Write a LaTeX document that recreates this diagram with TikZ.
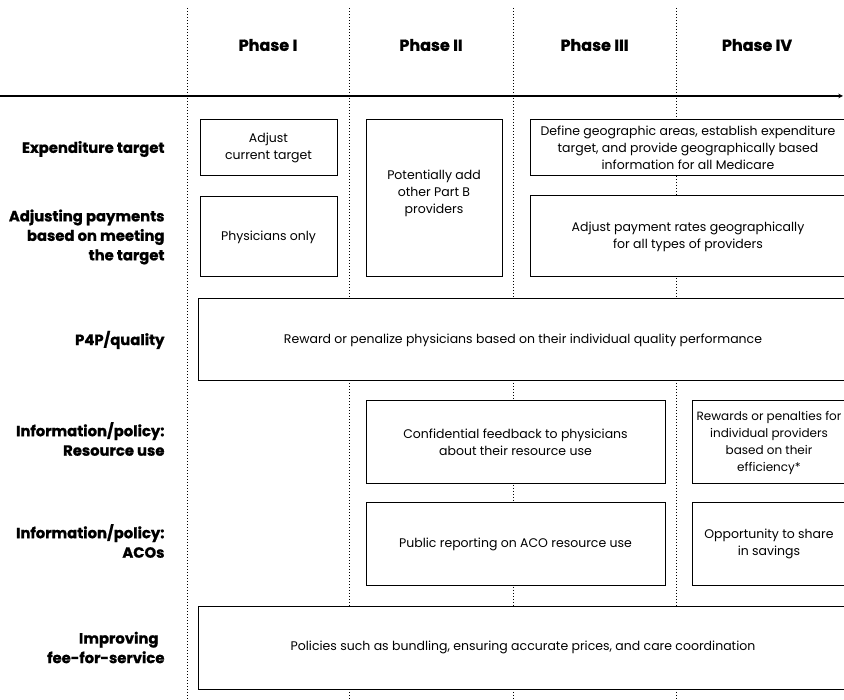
\documentclass[tikz,border=0pt]{standalone}
\usepackage{fontspec}
\setmainfont{Poppins}[BoldFeatures={FakeBold=1}]
\usepackage{tikz}

\begin{document}
\begin{tikzpicture}[x=1pt,y=-1pt,
    cell/.style={fill=white,draw,line width=1pt,align=center,inner sep=0pt,font=\fontsize{12.5}{17}\selectfont},
    rowlabel/.style={anchor=east,align=right,font=\bfseries\fontsize{14.8}{19.5}\selectfont},
    phase/.style={font=\bfseries\fontsize{16}{18}\selectfont},
    divider/.style={line width=0.8pt,dash pattern=on 0.8pt off 2.2pt}]
	\useasboundingbox (0,0) rectangle (844,700);
	
	\coordinate (d1t) at (187,8);
	\coordinate (d1b) at (187,700);
	\coordinate (d2t) at (349.5,8);
	\coordinate (d2b) at (349.5,700);
	\coordinate (d3t) at (513,8);
	\coordinate (d3b) at (513,700);
	\coordinate (d4t) at (676,8);
	\coordinate (d4b) at (676,700);
	\coordinate (tl0) at (0,96);
	\coordinate (tl1) at (843,96);
	
	\draw[divider] (d1t) -- (d1b);
	\draw[divider] (d2t) -- (d2b);
	\draw[divider] (d3t) -- (d3b);
	\draw[divider] (d4t) -- (d4b);
	\draw[line width=1.1pt,->,>=stealth] (tl0) -- (tl1);
	
	\node (ph1) at (268,45) [phase] {Phase I};
	\node (ph2) at (431,45) [phase] {Phase II};
	\node (ph3) at (594.5,45) [phase] {Phase III};
	\node (ph4) at (757,45) [phase] {Phase IV};
	
	\node (lbtarget) at (168,149) [rowlabel] {Expenditure target};
	\node (lbadjust) at (168,237) [rowlabel] {Adjusting payments\\based on meeting\\the target};
	\node (lbpfp) at (168,340) [rowlabel] {P4P/quality};
	\node (lbresource) at (168,439) [rowlabel] {Information/policy:\\Resource use};
	\node (lbaco) at (168,541) [rowlabel] {Information/policy:\\ACOs};
	\node (lbffs) at (168,647.5) [rowlabel] {Improving\kern6pt\\fee-for-service};
	
	\node (adjtarget) at (268.5,148) [cell,minimum width=137pt,minimum height=56pt] {Adjust\\current target};
	\node (partb) at (434,198.5) [cell,minimum width=136pt,minimum height=157pt,text depth=14pt] {Potentially add\\other Part B\\providers};
	\node (geoarea) at (688,148) [cell,minimum width=316pt,minimum height=56pt] {Define geographic areas, establish expenditure\\target, and provide geographically based\\information for all Medicare};
	\node (physonly) at (268.5,237) [cell,minimum width=137pt,minimum height=80pt] {Physicians only};
	\node (georates) at (688,236.5) [cell,minimum width=316pt,minimum height=81pt] {Adjust payment rates geographically\\for all types of providers};
	\node (pfp) at (523,340) [cell,minimum width=650pt,minimum height=82pt] {Reward or penalize physicians based on their individual quality performance};
	\node (feedback) at (515.5,442.5) [cell,minimum width=299pt,minimum height=83pt] {Confidential feedback to physicians\\about their resource use};
	\node (efficiency) at (769,442.5) [cell,minimum width=154pt,minimum height=83pt,font=\fontsize{12}{17}\selectfont] {Rewards or penalties for\\individual providers\\based on their\\efficiency*};
	\node (acoreport) at (515.5,544) [cell,minimum width=299pt,minimum height=82pt] {Public reporting on ACO resource use};
	\node (savings) at (769,544) [cell,minimum width=154pt,minimum height=82pt] {Opportunity to share\\in savings};
	\node (ffs) at (523,647.5) [cell,minimum width=650pt,minimum height=83pt] {Policies such as bundling, ensuring accurate prices, and care coordination};
\end{tikzpicture}
\end{document}
